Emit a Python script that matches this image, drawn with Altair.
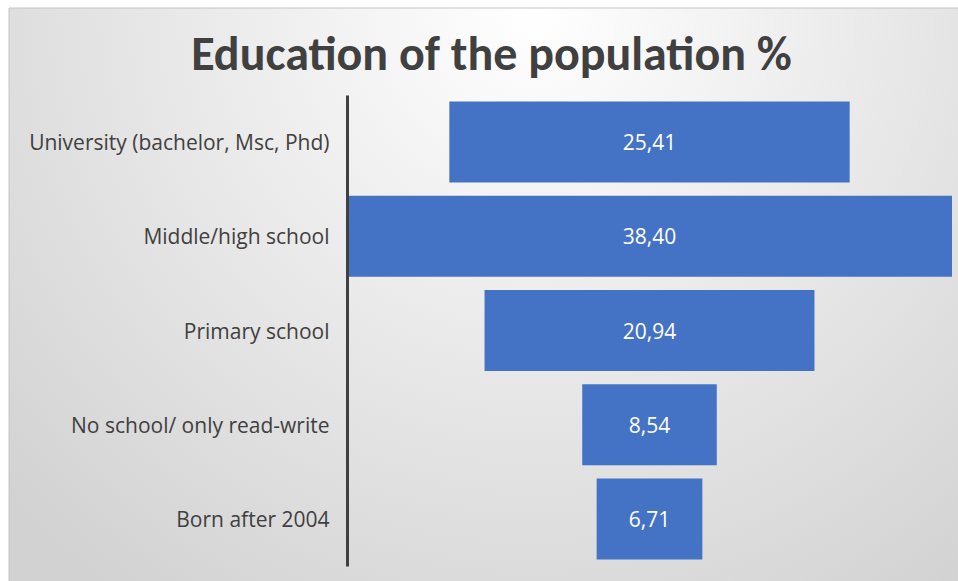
import altair as alt
import pandas as pd

categories = ["University (bachelor, Msc, Phd)", "Middle/high school", "Primary school",
              "No school/ only read-write", "Born after 2004"]
values = [25.41, 38.40, 20.94, 8.54, 6.71]
labels = ["25,41", "38,40", "20,94", "8,54", "6,71"]

df = pd.DataFrame({"category": categories, "value": values, "label": labels})

FONT = "Open Sans"
TFONT = "Carlito, Calibri, Lato, sans-serif"

ysc = alt.Y("category:N", sort=categories,
            scale=alt.Scale(paddingInner=0.14, paddingOuter=0.07),
            axis=alt.Axis(title=None, domain=True, domainColor="#404040", domainWidth=3,
                          ticks=False, grid=False, labelFontSize=21, labelColor="#404040",
                          labelFont=FONT, labelPadding=18, labelLimit=500, labelOffset=2,
                          zindex=1))

bg = alt.Chart(pd.DataFrame({"a": [0]})).mark_rect(
    fill=alt.RadialGradient(
        gradient="radial",
        stops=[alt.GradientStop(offset=0, color="#ffffff"),
               alt.GradientStop(offset=1, color="#d2d2d2")],
        x1=0.55, y1=0.2, r1=0, x2=0.55, y2=0.2, r2=0.75),
    stroke="#c4c4c4", strokeWidth=1,
).encode(x=alt.value(-338), x2=alt.value(615), y=alt.value(-87), y2=alt.value(490))

base = alt.Chart(df).transform_calculate(lo="-datum.value/2", hi="datum.value/2", mid="0")

bars = base.mark_bar(color="#4472C4").encode(
    y=ysc,
    x=alt.X("lo:Q", scale=alt.Scale(domain=[-19.2, 19.2], nice=False, zero=False), axis=None),
    x2="hi:Q",
)

text = base.mark_text(color="white", fontSize=21, font=FONT, dy=2).encode(
    y=alt.Y("category:N", sort=categories),
    x=alt.X("mid:Q"),
    text="label:N",
)

chart = alt.layer(bg, bars, text).properties(
    width=605, height=471,
    title=alt.Title("Education of the population %", fontSize=48, font=TFONT,
                    fontWeight="bold", color="#404040", anchor="middle", frame="group",
                    dx=-158, offset=-72),
    autosize=alt.AutoSizeParams(type="none"),
    padding={"left": 347, "top": 95, "right": 6, "bottom": 15},
    background="white",
).configure_view(strokeWidth=0)

chart.save("out.html", embed_options={"renderer": "svg", "actions": False})
